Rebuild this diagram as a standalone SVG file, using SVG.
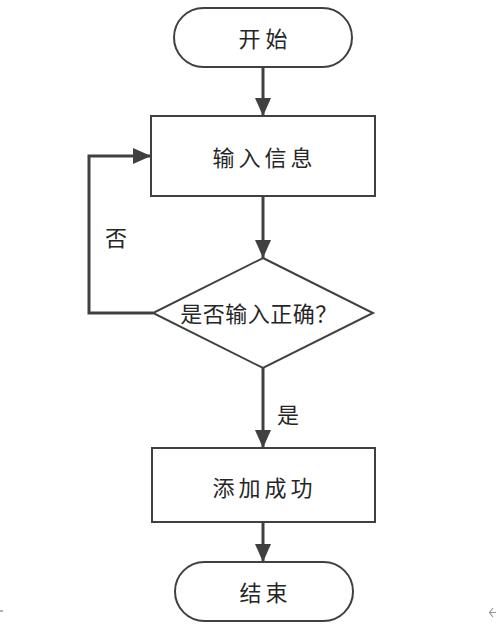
<svg xmlns="http://www.w3.org/2000/svg" width="497" height="635" viewBox="0 0 497 635">
<style>
.node{fill:#fff;stroke:#404040;stroke-width:2}
.edge{fill:none;stroke:#404040;stroke-width:3}
.t{font-family:"Noto Sans CJK SC","Liberation Sans",sans-serif;font-size:22px;fill:#262626;text-anchor:middle;dominant-baseline:central}
</style>
<defs>
<marker id="ah" viewBox="0 0 18 18" refX="18" refY="9" markerWidth="18" markerHeight="18" markerUnits="userSpaceOnUse" orient="auto">
<path d="M0,1 L18,9 L0,17 Z" fill="#404040"/>
</marker>
</defs>
<rect width="497" height="635" fill="#fff"/>
<g id="connectors">
<path class="edge" d="M263,67 V116" marker-end="url(#ah)"/>
<path class="edge" d="M263,196 V258" marker-end="url(#ah)"/>
<path class="edge" d="M153,313 H89 V156 H151" marker-end="url(#ah)"/>
<path class="edge" d="M263,368 V448" marker-end="url(#ah)"/>
<path class="edge" d="M263,522 V562" marker-end="url(#ah)"/>
<text class="t" x="116" y="236">否</text>
<text class="t" x="288" y="413">是</text>
</g>
<g id="start">
<rect class="node" x="174" y="8" width="178" height="59" rx="29.5"/>
<text class="t" x="265.5" y="37" letter-spacing="5">开始</text>
</g>
<g id="input">
<rect class="node" x="151" y="116" width="224" height="80"/>
<text class="t" x="264.5" y="156" letter-spacing="4">输入信息</text>
</g>
<g id="check">
<polygon class="node" points="263,258 373,313 263,368 153,313"/>
<text class="t" x="259" y="312" font-size="21" letter-spacing="0.5">是否输入正确？</text>
</g>
<g id="success">
<rect class="node" x="152" y="448" width="223" height="74"/>
<text class="t" x="264.5" y="486" letter-spacing="4">添加成功</text>
</g>
<g id="end">
<rect class="node" x="175" y="562" width="178" height="59" rx="29.5"/>
<text class="t" x="265.5" y="591" letter-spacing="4">结束</text>
</g>
<path d="M0,611 H3" stroke="#999" stroke-width="1.5" fill="none"/>
<path d="M493,608 L489.5,612.5 L493,617 M490,612.5 H496" stroke="#999" stroke-width="1.2" fill="none"/>
</svg>
